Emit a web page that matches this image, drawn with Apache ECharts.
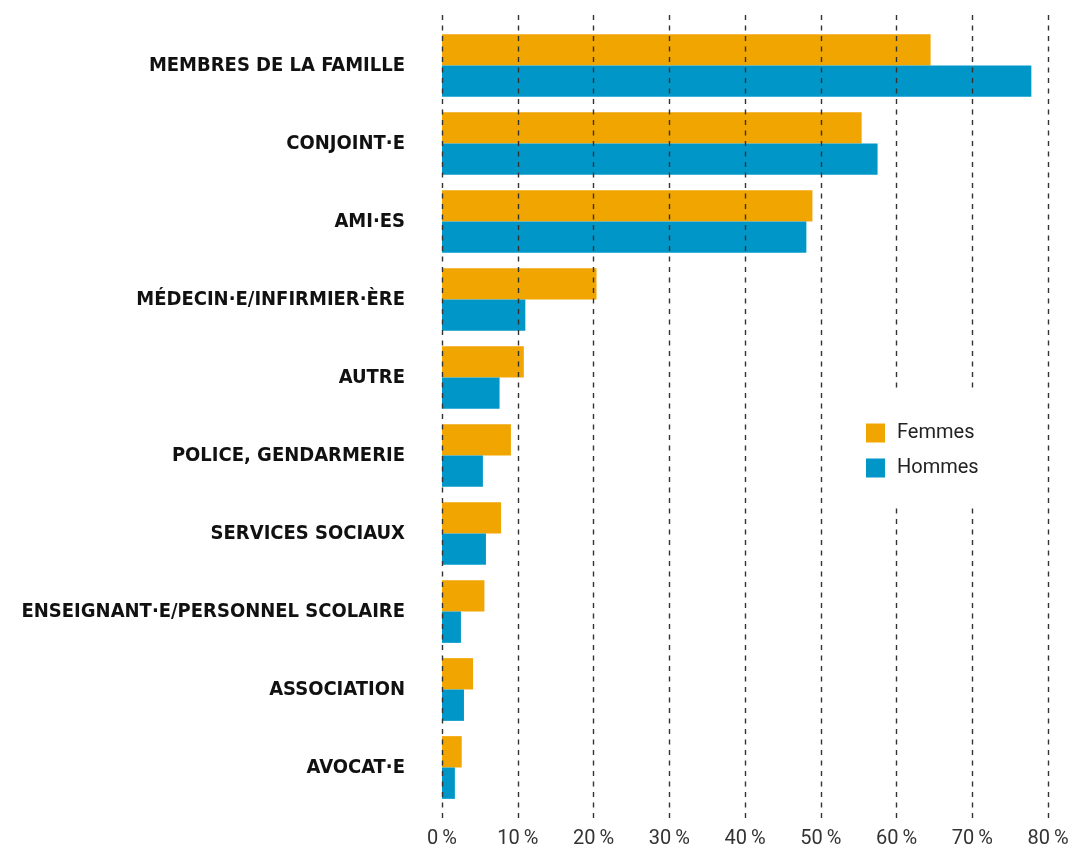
<!DOCTYPE html>
<html>
<head>
<meta charset="utf-8">
<script src="https://cdn.jsdelivr.net/npm/echarts@6/dist/echarts.min.js"></script>
<style>
  html, body { margin: 0; padding: 0; background: #fff; }
  #chart { width: 1080px; height: 852px; }
</style>
</head>
<body>
<div id="chart"></div>
<script>
var categories = ['MEMBRES DE LA FAMILLE', 'CONJOINT·E', 'AMI·ES', 'MÉDECIN·E/INFIRMIER·ÈRE', 'AUTRE',
  'POLICE, GENDARMERIE', 'SERVICES SOCIAUX', 'ENSEIGNANT·E/PERSONNEL SCOLAIRE', 'ASSOCIATION', 'AVOCAT·E'];
var femmes = [64.5, 55.4, 48.9, 20.4, 10.8, 9.1, 7.8, 5.6, 4.1, 2.6];
var hommes = [77.8, 57.5, 48.1, 11.0, 7.6, 5.4, 5.8, 2.5, 2.9, 1.7];
var xTicks = [0, 10, 20, 30, 40, 50, 60, 70, 80];

var chart = echarts.init(document.getElementById('chart'));

var option = {
  animation: false,
  backgroundColor: '#fff',
  grid: [
    // bars
    { left: 442, right: 32, top: 26.5, bottom: 45.5 },
    // dashed grid lines + tick labels (taller than the bars grid)
    { left: 442, right: 32, top: 15, bottom: 34 }
  ],
  legend: {
    orient: 'vertical',
    left: 845,
    top: 393,
    padding: [30, 24, 29, 21],
    backgroundColor: '#fff',
    z: 20,
    icon: 'rect',
    itemWidth: 19,
    itemHeight: 19,
    itemGap: 15,
    textStyle: {
      fontFamily: 'Roboto, sans-serif',
      fontSize: 20,
      color: '#222',
      padding: [0, 0, 0, 7]
    },
    data: ['Femmes', 'Hommes']
  },
  xAxis: [
    { gridIndex: 0, type: 'value', min: 0, max: xTicks[xTicks.length - 1], interval: 10, show: false },
    {
      gridIndex: 1, type: 'value', min: 0, max: xTicks[xTicks.length - 1], interval: 10,
      axisLine: { show: false },
      axisTick: { show: false },
      splitLine: { show: false },
      axisLabel: {
        margin: 11,
        fontFamily: 'Roboto, sans-serif',
        fontSize: 20,
        color: '#333',
        formatter: function (v) { return v + '\u2009%'; }
      }
    }
  ],
  yAxis: [
    {
      gridIndex: 0, type: 'category', data: categories, inverse: true,
      axisLine: { show: false },
      axisTick: { show: false },
      axisLabel: {
        margin: 37,
        fontFamily: '"Liberation Sans Narrow", "DejaVu Sans Condensed", sans-serif',
        fontWeight: 'bold',
        fontSize: 20,
        color: '#111'
      }
    },
    { gridIndex: 1, type: 'value', min: 0, max: 1, show: false }
  ],
  series: [
    {
      name: 'Femmes', type: 'bar', xAxisIndex: 0, yAxisIndex: 0,
      data: femmes, color: '#F1A500', z: 1,
      barGap: '0%', barCategoryGap: '19.6%'
    },
    {
      name: 'Hommes', type: 'bar', xAxisIndex: 0, yAxisIndex: 0,
      data: hommes, color: '#0097C8', z: 1,
      barGap: '0%', barCategoryGap: '19.6%'
    },
    {
      // dashed vertical grid lines, drawn over the bars
      name: 'grille', type: 'line', xAxisIndex: 1, yAxisIndex: 1,
      data: [], z: 10, silent: true,
      markLine: {
        silent: true,
        z: 10,
        symbol: 'none',
        label: { show: false },
        lineStyle: { color: '#333', width: 1.4, type: [5, 5.5] },
        data: xTicks.map(function (v) { return { xAxis: v }; })
      }
    }
  ]
};

chart.setOption(option);
</script>
</body>
</html>
